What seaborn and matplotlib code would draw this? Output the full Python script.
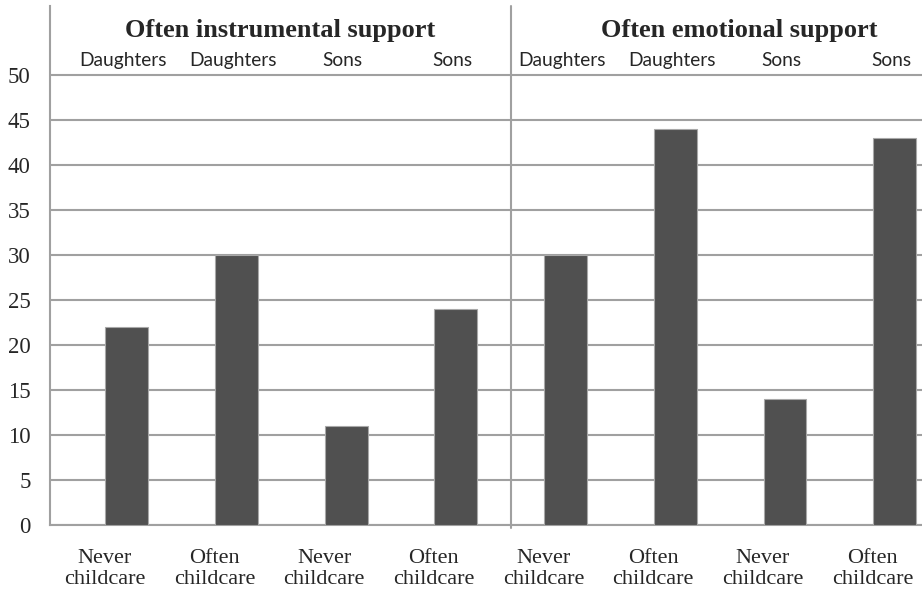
import numpy as np
import pandas as pd
import matplotlib
matplotlib.use("Agg")
import matplotlib.pyplot as plt
import seaborn as sns

headers = ["Often instrumental support", "Often emotional support"]
children = ["Daughters", "Daughters", "Sons", "Sons",
            "Daughters", "Daughters", "Sons", "Sons"]
childcare = ["Never\nchildcare", "Often\nchildcare", "Never\nchildcare", "Often\nchildcare",
             "Never\nchildcare", "Often\nchildcare", "Never\nchildcare", "Often\nchildcare"]
values = [22, 30, 11, 24, 30, 44, 14, 43]
yticks = [0, 5, 10, 15, 20, 25, 30, 35, 40, 45, 50]

sns.set_style("white")

slots = np.arange(len(values))
df = pd.DataFrame({"pos": slots + 0.2, "value": values})

fig = plt.figure(figsize=(9.22, 5.94), dpi=100)
ax = fig.add_axes([50 / 922, 69 / 594, 872 / 922, 519 / 594])

sns.barplot(data=df, x="pos", y="value", native_scale=True, width=0.39,
            color="#505050", edgecolor="#a8a8a8", linewidth=0.8,
            saturation=1, ax=ax, zorder=3)

ax.set_xlim(-0.5, 7.45)
ax.set_ylim(0, 57.67)
ax.set_yticks(yticks)
ax.set_yticklabels([str(t) for t in yticks], family="Liberation Serif", fontsize=16.5)
ax.tick_params(axis="y", length=0, pad=14)
ax.set_xticks(slots)
ax.set_xticklabels(childcare, family="Liberation Serif", fontsize=16, linespacing=1.2)
ax.tick_params(axis="x", length=0, pad=17)
ax.set_xlabel("")
ax.set_ylabel("")

for t in yticks:
    ax.axhline(t, color="#a0a0a0", lw=1.5, zorder=1)

for s in ["top", "right"]:
    ax.spines[s].set_visible(False)
ax.spines["left"].set_color("#a0a0a0")
ax.spines["left"].set_linewidth(1.5)
ax.spines["bottom"].set_color("#a0a0a0")
ax.spines["bottom"].set_linewidth(1.5)

# divider between the two panels
ax.axvline(3.7, ymin=-0.006, ymax=1, color="#a0a0a0", lw=1.5, clip_on=False, zorder=2)

for i, c in enumerate(children):
    ax.text(i + 0.17, 51.6, c, ha="center", va="center", family="Lato", fontsize=13.8)

ax.text(1.6, 54.9, headers[0], ha="center", va="center",
        family="Liberation Serif", fontweight="bold", fontsize=19)
ax.text(5.78, 54.9, headers[1], ha="center", va="center",
        family="Liberation Serif", fontweight="bold", fontsize=19)

fig.savefig("out.png", dpi=100)
